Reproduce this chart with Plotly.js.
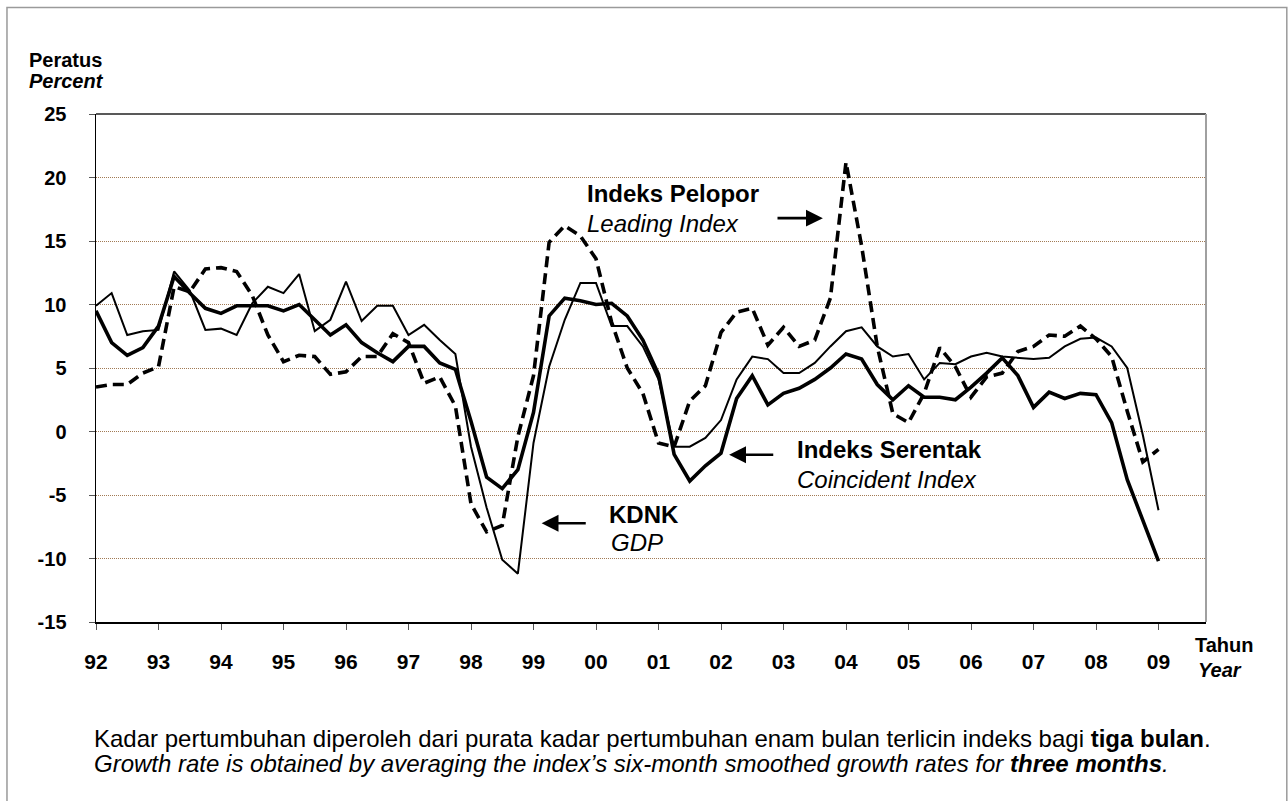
<!DOCTYPE html>
<html>
<head>
<meta charset="utf-8">
<script src="https://cdn.plot.ly/plotly-3.0.1.min.js"></script>
<style>
  html, body { margin: 0; padding: 0; background: #ffffff; }
  #chart { width: 1288px; height: 801px; }
</style>
</head>
<body>
<div id="chart"></div>
<script>
// Year tick labels (quarterly data, 1992Q1 .. 2009Q1)
const tickYears = [1992,1993,1994,1995,1996,1997,1998,1999,2000,2001,2002,2003,2004,2005,2006,2007,2008,2009];
const tickLabels = ['92','93','94','95','96','97','98','99','00','01','02','03','04','05','06','07','08','09'];
const yTicks = [-15,-10,-5,0,5,10,15,20,25];

// Indeks Pelopor / Leading Index (dashed)
const leading = [
  3.5, 3.7, 3.7, 4.6,   5.1, 11.4, 11.0, 12.8,  12.9, 12.6, 10.7, 7.6,
  5.5, 6.0, 5.9, 4.5,   4.7, 5.9, 5.9, 7.7,     7.0, 3.8, 4.3, 2.0,
  -5.7, -7.9, -7.4, -0.4,  4.4, 14.9, 16.2, 15.4,  13.6, 8.6, 5.0, 3.0,
  -0.9, -1.2, 2.4, 3.6,  7.8, 9.4, 9.7, 6.8,     8.2, 6.7, 7.2, 10.5,
  21.2, 14.6, 6.7, 1.4,  0.7, 3.0, 6.6, 5.1,     2.7, 4.3, 4.6, 6.3,
  6.7, 7.6, 7.5, 8.3,   7.3, 5.9, 1.6, -2.4,    -1.4
];

// Indeks Serentak / Coincident Index (thick solid)
const coincident = [
  9.5, 7.0, 6.0, 6.6,   8.3, 12.2, 10.9, 9.7,   9.3, 9.9, 9.9, 9.9,
  9.5, 10.0, 8.8, 7.6,  8.4, 7.0, 6.2, 5.5,     6.7, 6.7, 5.4, 4.9,
  0.8, -3.6, -4.5, -3.0, 1.5, 9.1, 10.5, 10.3,  10.0, 10.1, 9.1, 7.2,
  4.5, -1.8, -3.9, -2.7, -1.7, 2.6, 4.4, 2.1,   3.0, 3.4, 4.1, 5.0,
  6.1, 5.7, 3.7, 2.5,   3.6, 2.7, 2.7, 2.5,     3.5, 4.6, 5.8, 4.4,
  1.9, 3.1, 2.6, 3.0,   2.9, 0.7, -3.8, -7.0,   -10.2
];

// KDNK / GDP (thin solid)
const gdp = [
  9.9, 10.9, 7.6, 7.9,  8.0, 12.6, 11.1, 8.0,   8.1, 7.6, 10.1, 11.4,
  10.9, 12.4, 7.9, 8.8, 11.8, 8.7, 9.9, 9.9,    7.6, 8.4, 7.2, 6.1,
  -1.2, -6.0, -10.1, -11.2, -0.9, 5.1, 8.8, 11.7, 11.7, 8.3, 8.3, 6.7,
  4.1, -1.2, -1.2, -0.5, 0.9, 4.1, 5.9, 5.7,    4.6, 4.6, 5.4, 6.7,
  7.9, 8.2, 6.7, 5.9,   6.1, 4.1, 5.4, 5.3,     5.9, 6.2, 5.9, 5.8,
  5.7, 5.8, 6.7, 7.3,   7.4, 6.7, 5.0, -0.3,    -6.2
];

// quarter positions (1992Q1 = 1992.00, step one quarter)
const quarters = leading.map((_, i) => 1992 + i / 4);

const FONT = 'Arial, "Liberation Sans", Helvetica, sans-serif';

const traces = [
  { x: quarters, y: gdp, type: 'scatter', mode: 'lines', name: 'KDNK / GDP',
    line: { color: '#000000', width: 2 } },
  { x: quarters, y: coincident, type: 'scatter', mode: 'lines', name: 'Indeks Serentak / Coincident Index',
    line: { color: '#000000', width: 3.6 } },
  { x: quarters, y: leading, type: 'scatter', mode: 'lines', name: 'Indeks Pelopor / Leading Index',
    line: { color: '#000000', width: 3.6, dash: '11px,6px' } }
];

function txt(text, x, y, size, extra) {
  return Object.assign({ text: text, x: x, y: y, xref: 'x', yref: 'y', showarrow: false,
    xanchor: 'left', yanchor: 'middle', font: { family: FONT, size: size, color: '#000' } }, extra || {});
}
function arrow(hx, hy, tx, ty) {
  return { x: hx, y: hy, ax: tx, ay: ty, xref: 'x', yref: 'y', axref: 'x', ayref: 'y',
    text: '', showarrow: true, arrowhead: 2, arrowsize: 1.3, arrowwidth: 2.6, arrowcolor: '#000' };
}
function ptxt(text, x, y, size, extra) {
  return Object.assign({ text: text, x: x, y: y, xref: 'paper', yref: 'paper', showarrow: false,
    xanchor: 'left', yanchor: 'middle', font: { family: FONT, size: size, color: '#000' } }, extra || {});
}

const annotations = [
  txt('<b>Indeks Pelopor</b>', 1999.83, 18.76, 24),
  txt('<i>Leading Index</i>', 1999.83, 16.35, 24),
  arrow(2003.63, 16.8, 2002.88, 16.8),
  txt('<b>Indeks Serentak</b>', 2003.19, -1.44, 24),
  txt('<i>Coincident Index</i>', 2003.19, -3.8, 24),
  arrow(2002.13, -1.83, 2002.86, -1.83),
  txt('<b>KDNK</b>', 2000.18, -6.56, 24),
  txt('<i>GDP</i>', 2000.2, -8.76, 24),
  arrow(1999.13, -7.22, 1999.86, -7.22),
  ptxt('<b>Peratus</b>', -0.062, 1.106, 20),
  ptxt('<b><i>Percent</i></b>', -0.062, 1.065, 20),
  ptxt('<b>Tahun</b>', 0.988, -0.045, 20),
  ptxt('<b><i>Year</i></b>', 0.991, -0.094, 20),
  ptxt('Kadar pertumbuhan diperoleh dari purata kadar pertumbuhan enam bulan terlicin indeks bagi <b>tiga bulan</b>.', -0.004, -0.229, 24),
  ptxt('<i>Growth rate is obtained by averaging the index\u2019s six-month smoothed growth rates for <b>three months</b>.</i>', -0.004, -0.279, 24)
];

const shapes = [
  // top border of plot area
  { type: 'line', xref: 'paper', yref: 'paper', x0: 0, x1: 1, y0: 1, y1: 1, line: { color: '#222222', width: 1.3 } },
  // right border of plot area
  { type: 'line', xref: 'paper', yref: 'paper', x0: 1, x1: 1, y0: 0, y1: 1, line: { color: '#a0a0a0', width: 2 } },
  // outer frame
  { type: 'rect', xref: 'paper', yref: 'paper', x0: -0.0802, x1: 1.0728, y0: -0.40, y1: 1.2096,
    line: { color: '#9a9a9a', width: 1.5 }, layer: 'below' }
];

const layout = {
  width: 1288, height: 801,
  margin: { l: 96, r: 82, t: 114, b: 179, pad: 0 },
  paper_bgcolor: '#ffffff', plot_bgcolor: '#ffffff',
  showlegend: false,
  font: { family: FONT, color: '#000' },
  xaxis: {
    range: [1992, 2009.76], tickvals: tickYears, ticktext: tickLabels,
    ticks: 'outside', ticklen: 6, tickcolor: '#555', tickwidth: 1,
    showgrid: false, zeroline: false, showline: true, linecolor: '#000', linewidth: 1.5,
    tickfont: { family: FONT, size: 21, color: '#000', weight: 'bold' },
    ticklabelstandoff: 14, fixedrange: true
  },
  yaxis: {
    range: [-15, 25], tickvals: yTicks, ticktext: yTicks.map(String),
    ticks: 'outside', ticklen: 6, tickcolor: '#555', tickwidth: 1,
    showgrid: true, gridcolor: '#a27a55', griddash: '1px,1px', gridwidth: 1,
    zeroline: false, showline: true, linecolor: '#000', linewidth: 1.5,
    tickfont: { family: FONT, size: 20, color: '#000', weight: 'bold' },
    ticklabelstandoff: 18, fixedrange: true
  },
  annotations: annotations,
  shapes: shapes
};

Plotly.newPlot('chart', traces, layout, { displayModeBar: false, staticPlot: true });
</script>
</body>
</html>
